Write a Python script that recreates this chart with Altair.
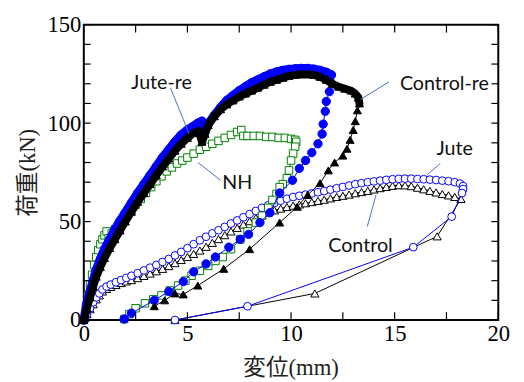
import altair as alt
import pandas as pd

# ---------------- data (x: mm, y: kN) ----------------
# Jute-re : blue filled circles
jute_re_x = [0, 0.15, 0.3, 0.45, 0.6, 0.8, 1.0, 1.25, 1.5, 1.75, 2.0, 2.3, 2.6, 2.9, 3.2, 3.5,
             3.8, 4.1, 4.4, 4.7, 5.0, 5.3, 5.5, 5.7, 5.85, 6.0, 6.3, 6.6, 6.9, 7.2, 7.5, 7.8,
             8.1, 8.4, 8.7, 9.0, 9.3, 9.6, 9.9, 10.2, 10.5, 10.8, 11.1, 11.4, 11.7, 11.95,
             11.9, 11.85, 11.7, 11.65, 11.55, 11.5, 11.3, 11.0, 10.7, 10.4, 10.07, 9.45, 8.98,
             8.5, 7.95, 7.55, 7.0, 6.35, 5.9, 5.3, 4.8, 4.1, 3.4, 2.3, 1.95]
jute_re_y = [0, 8.5, 14.5, 20, 25.5, 31, 36, 41, 46, 50.5, 54.5, 59.5, 64.5, 69, 73.5, 78,
             82.5, 86.5, 90.5, 94, 96.5, 98.5, 100, 101, 97, 99.5, 104, 108, 111.5, 114, 116.5, 118.5,
             120.5, 122, 123.5, 125, 126, 126.8, 127.3, 127.6, 127.8, 127.8, 127.4, 126.8, 125.8, 124.5,
             121, 116, 111, 106, 99.5, 94.5, 89.5, 85, 81, 77, 71, 64.5, 54.5,
             49.5, 43.5, 41, 37, 32, 28.5, 24.5, 19.5, 14.5, 10, 3.5, 0.5]
jute_re_nload = 46

# Control-re : black filled triangles
control_re_x = [0, 0.15, 0.3, 0.45, 0.6, 0.8, 1.0, 1.25, 1.5, 1.75, 2.0, 2.3, 2.6, 2.9, 3.2, 3.5,
                3.8, 4.1, 4.4, 4.7, 5.0, 5.3, 5.55, 5.7, 5.85, 6.0, 6.3, 6.6, 6.9, 7.2, 7.5, 7.8,
                8.1, 8.4, 8.7, 9.0, 9.3, 9.6, 9.9, 10.2, 10.5, 10.8, 11.1, 11.4, 11.7, 12.0,
                12.3, 12.6, 12.9, 13.1, 13.25, 13.3,
                13.2, 13.1, 13.0, 12.85, 12.7, 12.5, 12.1, 11.8, 11.4, 10.8, 10.3, 9.45, 8.0,
                6.75, 5.5, 4.8, 4.4, 3.9, 3.4]
control_re_y = [0, 6, 11.5, 17, 22, 27, 31.5, 36.5, 41, 45.5, 50, 55, 60, 64.5, 69, 73.5,
                78, 82, 86, 89.5, 92.5, 95, 96, 90.5, 94.5, 99, 103.5, 107, 109.5, 111.5, 113.5, 115,
                116.5, 118, 119.5, 121, 122, 123, 124, 124.5, 124.8, 124.8, 124.5, 123.5, 122, 120,
                118.5, 117.5, 116.5, 115, 113, 110,
                106.5, 101, 96.5, 91.5, 87, 83.5, 80, 76, 69.5, 63.5, 57.5, 49.5, 36,
                26, 17.5, 13, 13.5, 10, 7]
control_re_nload = 52

# NH : green open squares
nh_x = [0, 0.1, 0.2, 0.3, 0.4, 0.5, 0.6, 0.7, 0.8, 0.9, 1.0, 1.1, 1.2, 1.35, 1.5, 1.7, 1.9,
        2.1, 2.3, 2.5, 2.75, 3.0, 3.25, 3.5, 3.75, 4.0, 4.25, 4.5, 4.75, 5.0, 5.3, 5.6, 5.9,
        6.2, 6.5, 6.8, 7.1, 7.4, 7.6, 7.7, 7.9, 8.2, 8.5, 8.8, 9.1, 9.4, 9.7, 10.0, 10.2, 10.25,
        10.2, 10.1, 10.0, 9.9, 9.8, 9.6, 9.45, 9.3, 9.1, 8.9, 8.6, 8.3, 7.9, 7.55, 7.1, 6.7,
        6.35, 6.0, 5.6, 5.2, 4.9, 4.55, 4.15, 3.75, 3.35, 2.95, 2.5, 2.2, 1.95]
nh_y = [0, 6, 12, 18, 23, 28, 32, 35.5, 38.5, 41, 43, 45, 41.5, 44, 46, 48.5, 51,
        53.5, 56, 58.5, 61.5, 64.5, 67.5, 70.5, 73, 75.5, 77.5, 79.5, 81, 82.5, 84.5, 86.5, 88,
        89.5, 91, 92.5, 94, 95.5, 96.5, 93.5, 93.5, 93.5, 93.5, 93, 93, 92.5, 92.5, 92, 91.5, 90.5,
        88, 84.5, 81, 76, 72, 69, 67.5, 64, 61, 57, 53, 49.5, 45, 41, 36, 32,
        30, 27.5, 25, 22.5, 20, 17.5, 15, 12.5, 10.5, 8.5, 6, 3, 0.5]

# Jute : blue open circles
jute_x = [0.05, 0.15, 0.3, 0.45, 0.6, 0.75, 0.9, 1.1, 1.3, 1.55, 1.8, 2.05, 2.3, 2.6, 2.9, 3.2,
          3.5, 3.8, 4.1, 4.4, 4.7, 5.0, 5.3, 5.6, 5.9, 6.2, 6.5, 6.8, 7.1, 7.4, 7.7, 8.0, 8.3,
          8.6, 8.9, 9.2, 9.5, 9.8, 10.1, 10.4, 10.7, 11.0, 11.3, 11.6, 11.9, 12.2, 12.5, 12.8,
          13.1, 13.4, 13.7, 14.0, 14.3, 14.6, 14.9, 15.2, 15.5, 15.8, 16.1, 16.4, 16.7, 17.0,
          17.3, 17.6, 17.9, 18.15, 18.3, 18.3, 18.25,
          17.75, 15.9, 7.9, 4.4]
jute_y = [1, 3, 6, 9, 11.5, 13.5, 15.5, 17, 18, 19.2, 20.3, 21.4, 22.5, 23.8, 25.2, 26.6,
          28, 29.5, 31, 32.8, 34.6, 36.5, 38.5, 40.5, 42.3, 44, 45.6, 47.3, 49, 50.6, 52.2, 53.8, 55.4,
          57, 58.3, 59.5, 60.6, 61.6, 62.5, 63.1, 63.7, 64.3, 64.9, 65.5, 66.2, 66.9, 67.6, 68.3,
          69, 69.5, 70, 70.4, 70.8, 71.2, 71.5, 71.7, 71.8, 71.8, 71.6, 71.5, 71.3, 71.1,
          70.8, 70.5, 70, 69.3, 68, 66.5, 64.5,
          52.5, 37, 7, 0]

# Control : black open triangles
control_x = [0.05, 0.15, 0.3, 0.45, 0.6, 0.75, 0.9, 1.1, 1.3, 1.55, 1.8, 2.05, 2.3, 2.6, 2.9, 3.2,
             3.5, 3.8, 4.1, 4.4, 4.7, 5.0, 5.3, 5.6, 5.9, 6.2, 6.5, 6.8, 7.1, 7.4, 7.7, 8.0, 8.3,
             8.6, 8.9, 9.2, 9.5, 9.8, 10.1, 10.4, 10.7, 11.0, 11.3, 11.6, 11.9, 12.2, 12.5, 12.8,
             13.1, 13.4, 13.7, 14.0, 14.3, 14.6, 14.9, 15.2, 15.5, 15.8, 16.1, 16.4, 16.7, 17.0,
             17.3, 17.6, 17.9, 18.2,
             17.05, 11.15, 4.4]
control_y = [1, 3, 5.5, 8, 10.5, 12.5, 14.5, 15.8, 16.8, 17.8, 18.8, 19.6, 20.3, 21.3, 22.4, 23.6,
             24.8, 26, 27.4, 28.9, 30.5, 32, 33.6, 35.3, 37.2, 39.2, 41.1, 43.1, 45, 46.8, 48.5, 50.2, 51.8,
             53.3, 54.6, 55.7, 56.6, 57.4, 58.1, 58.7, 59.3, 59.9, 60.5, 61.1, 61.8, 62.5, 63.1, 63.7,
             64.4, 65, 65.6, 66.3, 67, 67.6, 68.2, 68.5, 68.4, 68, 67.2, 66.4, 65.6, 64.8,
             64, 63.3, 62.5, 61.5,
             42.5, 13.5, 0]

# annotations
label_text = ["Jute-re", "NH", "Control-re", "Jute", "Control"]
label_x = [3.75, 7.4, 17.4, 17.9, 13.35]
label_y = [120.5, 69.5, 120, 87, 37.5]
leader_x1 = [4.18, 5.51, 14.73, 17.2, 14.1]
leader_y1 = [118, 80, 121, 79.5, 63.5]
leader_x2 = [5.08, 6.6, 13.35, 16.53, 13.68]
leader_y2 = [94.5, 71, 112, 73.5, 47.5]

x_tick_values = [0, 2.5, 5, 7.5, 10, 12.5, 15, 17.5, 20]
y_tick_values = [0, 10, 20, 30, 40, 50, 60, 70, 80, 90, 100, 110, 120, 130, 140, 150]
x_label_values = [0, 5, 10, 15, 20]
y_label_values = [0, 50, 100, 150]

# ---------------- chart ----------------
W, H = 421, 300
BLUE, BLACK, GREEN = "#0000ff", "#000000", "#008000"
SERIF = "'Liberation Serif', 'DejaVu Serif', serif"
TITLE_FONT = "'Liberation Serif', 'Noto Sans CJK JP', serif"


def frame(xs, ys):
    return pd.DataFrame({"x": xs, "y": ys, "i": list(range(len(xs)))})


xscale = alt.Scale(domain=[0, 20], nice=False, zero=False)
yscale = alt.Scale(domain=[0, 150], nice=False, zero=False)

xaxis = alt.Axis(values=x_label_values, ticks=False, domain=False, grid=False,
                 labelFont=SERIF, labelFontSize=23, labelColor="black",
                 labelPadding=3, labelFlush=False, labelOverlap=False, format="d",
                 title="変位(mm)", titleFont=TITLE_FONT,
                 titleFontSize=23, titleFontWeight="normal", titleColor="#222222",
                 titleX=210, titleY=48, titleAlign="center", titleBaseline="middle")
yaxis = alt.Axis(values=y_label_values, ticks=False, domain=False, grid=False,
                 labelFont=SERIF, labelFontSize=23, labelColor="black",
                 labelPadding=3, labelFlush=False, labelOverlap=False, format="d",
                 title="荷重(kN)", titleFont=TITLE_FONT,
                 titleFontSize=23, titleFontWeight="normal", titleColor="#222222",
                 titleX=-57, titleY=150, titleAngle=270, titleAlign="center",
                 titleBaseline="middle")

X = alt.X("x:Q", scale=xscale, axis=xaxis)
Y = alt.Y("y:Q", scale=yscale, axis=yaxis)
O = alt.Order("i:Q")

layers = []


def series(df, color, shape, filled, size, band_n=None, band_w=8):
    out = []
    if band_n:
        out.append(alt.Chart(df[df.i < band_n]).mark_line(
            color=color, strokeWidth=band_w, strokeCap="round", strokeJoin="round"
        ).encode(x=X, y=Y, order=O))
    out.append(alt.Chart(df).mark_line(color=color, strokeWidth=1).encode(x=X, y=Y, order=O))
    out.append(alt.Chart(df).mark_point(
        shape=shape, filled=True, size=size, opacity=1,
        fill=color if filled else "white", stroke=color, strokeWidth=1
    ).encode(x=X, y=Y, order=O))
    return out


layers += series(frame(control_x, control_y), BLACK, "triangle-up", False, 70)
layers += series(frame(jute_x, jute_y), BLUE, "circle", False, 62)
layers += series(frame(nh_x, nh_y), GREEN, "square", False, 58)
layers += series(frame(jute_re_x, jute_re_y), BLUE, "circle", True, 72,
                 band_n=jute_re_nload, band_w=9)
layers += series(frame(control_re_x, control_re_y), BLACK, "triangle-up", True, 66,
                 band_n=control_re_nload)

# leader lines and labels
lead = pd.DataFrame({"x": leader_x1, "y": leader_y1, "x2": leader_x2, "y2": leader_y2})
layers.append(alt.Chart(lead).mark_rule(color="#4472c4", strokeWidth=1).encode(
    x=X, y=Y, x2="x2:Q", y2="y2:Q"))
labs = pd.DataFrame({"t": label_text, "x": label_x, "y": label_y})
layers.append(alt.Chart(labs).mark_text(font="Lato", fontSize=20, color="#111111",
                                        align="center", baseline="middle").encode(
    x=X, y=Y, text="t:N"))

# inward ticks on all four sides
xt = pd.DataFrame({"x": x_tick_values})
yt = pd.DataFrame({"y": y_tick_values})
layers.append(alt.Chart(xt).mark_rule(color="black", strokeWidth=1.2).encode(
    x=X, y=alt.value(H), y2=alt.value(H - 8)))
layers.append(alt.Chart(xt).mark_rule(color="black", strokeWidth=1.2).encode(
    x=X, y=alt.value(0), y2=alt.value(8)))
layers.append(alt.Chart(yt).mark_rule(color="black", strokeWidth=1.2).encode(
    y=Y, x=alt.value(0), x2=alt.value(7)))
layers.append(alt.Chart(yt).mark_rule(color="black", strokeWidth=1.2).encode(
    y=Y, x=alt.value(W), x2=alt.value(W - 7)))

chart = alt.layer(*layers).properties(
    width=W, height=H,
    padding={"left": 77, "top": 14, "right": 18, "bottom": 60},
    autosize=alt.AutoSizeParams(type="none"),
).configure_view(stroke="black", strokeWidth=2)

chart.save("out.html", embed_options={"renderer": "svg", "actions": False})
